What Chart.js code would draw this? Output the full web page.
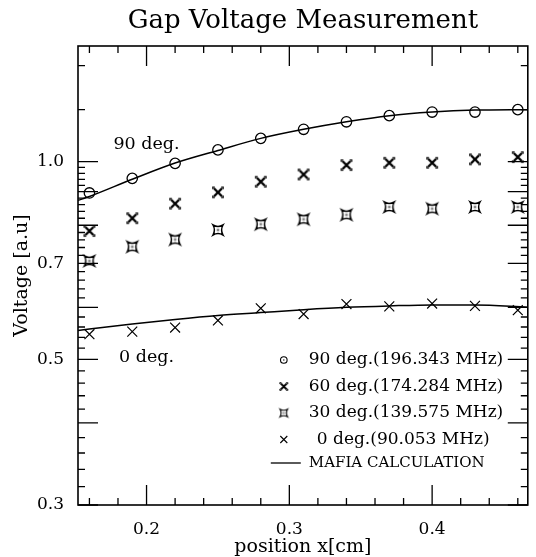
<!DOCTYPE html>
<html><head><meta charset="utf-8">
<script src="https://cdn.jsdelivr.net/npm/chart.js@4.4.1/dist/chart.umd.min.js"></script>
<style>html,body{margin:0;padding:0;background:#fff}</style>
</head><body>
<canvas id="c" width="536" height="557"></canvas>
<script>
// ---- data ----
const positions = [0.16, 0.19, 0.22, 0.25, 0.28, 0.31, 0.34, 0.37, 0.40, 0.43, 0.46];
const v90 = [0.896, 0.943, 0.994, 1.042, 1.085, 1.12, 1.15, 1.175, 1.19, 1.19, 1.20];
const v60 = [0.784, 0.820, 0.863, 0.898, 0.932, 0.956, 0.988, 0.996, 0.996, 1.008, 1.016];
const v30 = [0.706, 0.742, 0.761, 0.787, 0.803, 0.817, 0.830, 0.853, 0.848, 0.853, 0.853];
const v0  = [0.546, 0.551, 0.559, 0.573, 0.598, 0.586, 0.607, 0.602, 0.608, 0.603, 0.594];
const calcPositions = [0.152, 0.16, 0.19, 0.22, 0.25, 0.28, 0.31, 0.34, 0.37, 0.40, 0.43, 0.467];
const calc90 = [0.873, 0.885, 0.94, 0.995, 1.04, 1.085, 1.12, 1.15, 1.175, 1.19, 1.198, 1.20];
const calc0  = [0.553, 0.556, 0.566, 0.575, 0.583, 0.589, 0.595, 0.600, 0.603, 0.605, 0.605, 0.600];
const seriesLabels = ['90 deg.(196.343 MHz)', '60 deg.(174.284 MHz)', '30 deg.(139.575 MHz)', '0 deg.(90.053 MHz)', 'MAFIA CALCULATION'];
const chartTitle = 'Gap Voltage Measurement';
const xTitle = 'position x[cm]';
const yTitle = 'Voltage [a.u]';
const xTickLabels = [0.2, 0.3, 0.4];
const yTickLabels = [0.3, 0.5, 0.7, 1.0];
const xMajorTicks = [0.2, 0.3, 0.4];
const xMinorTicks = [0.16, 0.18, 0.22, 0.24, 0.26, 0.28, 0.32, 0.34, 0.36, 0.38, 0.42, 0.44, 0.46];
const yMajorTicks = [0.3, 0.4, 0.5, 0.6, 0.7, 0.8, 0.9, 1.0];
const yMinorTicks = [0.32, 0.34, 0.36, 0.38, 0.42, 0.44, 0.46, 0.48, 0.52, 0.54, 0.56, 0.58,
  0.62, 0.64, 0.66, 0.68, 0.72, 0.74, 0.76, 0.78, 0.82, 0.84, 0.86, 0.88, 0.92, 0.94, 0.96, 0.98, 1.2, 1.4];
const curveNotes = [{text: '90 deg.', x: 0.2, y: 1.063}, {text: '0 deg.', x: 0.2, y: 0.504}];

// ---- styles ----
const FONT = "'DejaVu Serif', serif";
Chart.defaults.font.family = FONT;
Chart.defaults.color = '#000';

function makeMarker(kind, s) {
  const size = Math.ceil(14 * s) + 2;
  const c = document.createElement('canvas');
  c.width = size; c.height = size;
  const g = c.getContext('2d');
  g.translate(size / 2, size / 2);
  g.scale(s, s);
  g.strokeStyle = '#000';
  g.fillStyle = '#000';
  g.lineCap = 'butt';
  if (kind === 'bx') {
    g.lineWidth = 2.4;
    g.beginPath();
    g.moveTo(-4, -4); g.lineTo(4, 4);
    g.moveTo(4, -4); g.lineTo(-4, 4);
    g.stroke();
    g.lineWidth = 1.3;
    g.beginPath();
    [[-1, -1], [1, -1], [1, 1], [-1, 1]].forEach(([a, b]) => {
      g.moveTo(a * 5.2, b * 3.2); g.lineTo(a * 5.2, b * 5.2); g.lineTo(a * 3.2, b * 5.2);
    });
    g.stroke();
  } else if (kind === 'star') {
    g.lineWidth = 1.5;
    g.beginPath();
    g.moveTo(-5, -5);
    g.quadraticCurveTo(0, -2.2, 5, -5);
    g.quadraticCurveTo(2.2, 0, 5, 5);
    g.quadraticCurveTo(0, 2.2, -5, 5);
    g.quadraticCurveTo(-2.2, 0, -5, -5);
    g.closePath();
    g.stroke();
    g.fillStyle = '#888';
    g.fillRect(-1.3, -1.3, 2.6, 2.6);
  }
  return c;
}
const marker60 = makeMarker('bx', 1);
const marker30 = makeMarker('star', 1);
const marker60s = makeMarker('bx', 0.75);
const marker30s = makeMarker('star', 0.75);

const pts = (xs, ys) => xs.map((x, i) => ({x, y: ys[i]}));

const framePlugin = {
  id: 'frame',
  afterDatasetsDraw(chart) {
    const {ctx, chartArea: a, scales: {x, y}} = chart;
    ctx.save();
    ctx.strokeStyle = '#000';
    ctx.lineWidth = 1.3;
    ctx.beginPath();
    const tick = (vals, len) => {
      vals.forEach(v => {
        const px = x.getPixelForValue(v);
        ctx.moveTo(px, a.bottom); ctx.lineTo(px, a.bottom - len);
        ctx.moveTo(px, a.top); ctx.lineTo(px, a.top + len);
      });
    };
    const ytick = (vals, len) => {
      vals.forEach(v => {
        const py = y.getPixelForValue(v);
        ctx.moveTo(a.left, py); ctx.lineTo(a.left + len, py);
        ctx.moveTo(a.right, py); ctx.lineTo(a.right - len, py);
      });
    };
    tick(xMajorTicks, 20); tick(xMinorTicks, 7);
    ytick(yMajorTicks, 20); ytick(yMinorTicks, 7);
    ctx.stroke();
    ctx.lineWidth = 1.6;
    ctx.strokeRect(a.left, a.top, a.right - a.left, a.bottom - a.top);

    // title
    ctx.fillStyle = '#000';
    ctx.textAlign = 'center';
    ctx.textBaseline = 'middle';
    ctx.font = '26px ' + FONT;
    ctx.fillText(chartTitle, (a.left + a.right) / 2, 21);

    // curve notes
    ctx.font = '17.5px ' + FONT;
    curveNotes.forEach(n => ctx.fillText(n.text, x.getPixelForValue(n.x), y.getPixelForValue(n.y)));

    // legend
    const symX = a.right - 244;
    const rows = [a.bottom - 145, a.bottom - 118.5, a.bottom - 92, a.bottom - 65.5, a.bottom - 42];
    ctx.textAlign = 'left';
    ctx.font = '17px ' + FONT;
    // row 0: circle with dot
    ctx.lineWidth = 1.1;
    ctx.beginPath(); ctx.arc(symX, rows[0], 3.3, 0, Math.PI * 2); ctx.stroke();
    ctx.fillRect(symX - 0.6, rows[0] - 0.6, 1.2, 1.2);
    ctx.fillText(seriesLabels[0], symX + 25, rows[0]);
    ctx.drawImage(marker60s, symX - marker60s.width / 2, rows[1] - marker60s.height / 2);
    ctx.fillText(seriesLabels[1], symX + 25, rows[1]);
    ctx.drawImage(marker30s, symX - marker30s.width / 2, rows[2] - marker30s.height / 2);
    ctx.fillText(seriesLabels[2], symX + 25, rows[2]);
    ctx.lineWidth = 1.1;
    ctx.beginPath();
    ctx.moveTo(symX - 3.5, rows[3] - 3.5); ctx.lineTo(symX + 3.5, rows[3] + 3.5);
    ctx.moveTo(symX + 3.5, rows[3] - 3.5); ctx.lineTo(symX - 3.5, rows[3] + 3.5);
    ctx.stroke();
    ctx.fillText(seriesLabels[3], symX + 33, rows[3]);
    ctx.lineWidth = 1.3;
    ctx.beginPath(); ctx.moveTo(symX - 13, rows[4]); ctx.lineTo(symX + 17, rows[4]); ctx.stroke();
    ctx.font = '15px ' + FONT;
    ctx.fillText(seriesLabels[4], symX + 25, rows[4]);
    ctx.restore();
  }
};

new Chart(document.getElementById('c'), {
  type: 'scatter',
  data: {
    datasets: [
      {label: 'MAFIA 90', data: pts(calcPositions, calc90), showLine: true, pointRadius: 0,
       borderColor: '#000', borderWidth: 1.5, cubicInterpolationMode: 'monotone', fill: false},
      {label: 'MAFIA 0', data: pts(calcPositions, calc0), showLine: true, pointRadius: 0,
       borderColor: '#000', borderWidth: 1.5, cubicInterpolationMode: 'monotone', fill: false},
      {label: seriesLabels[0], data: pts(positions, v90), pointStyle: 'circle', pointRadius: 5.2,
       borderColor: '#000', backgroundColor: 'rgba(0,0,0,0)', borderWidth: 1.3},
      {label: seriesLabels[1], data: pts(positions, v60), pointStyle: marker60, pointRadius: 6,
       borderColor: '#000'},
      {label: seriesLabels[2], data: pts(positions, v30), pointStyle: marker30, pointRadius: 6,
       borderColor: '#000'},
      {label: seriesLabels[3], data: pts(positions, v0), pointStyle: 'crossRot', pointRadius: 7,
       borderColor: '#000', borderWidth: 1.2}
    ]
  },
  options: {
    responsive: false,
    animation: false,
    devicePixelRatio: 1,
    layout: {padding: {top: 46, right: 2, left: 0, bottom: 0}},
    plugins: {legend: {display: false}, tooltip: {enabled: false}, title: {display: false}},
    scales: {
      x: {
        type: 'linear', min: 0.152, max: 0.467,
        grid: {display: false}, border: {display: false},
        afterBuildTicks: s => { s.ticks = xTickLabels.map(v => ({value: v})); },
        afterFit: s => { s.height = 52; },
        ticks: {padding: 6, font: {size: 17}, color: '#000', maxRotation: 0, callback: v => Number(v).toFixed(1)},
        title: {display: true, text: xTitle, font: {size: 19, lineHeight: 1}, padding: {top: 0, bottom: 0}, color: '#000'}
      },
      y: {
        type: 'logarithmic', min: 0.3, max: 1.5,
        grid: {display: false}, border: {display: false},
        afterBuildTicks: s => { s.ticks = yTickLabels.map(v => ({value: v})); },
        afterFit: s => { s.width = 78; },
        ticks: {padding: 6, font: {size: 17}, color: '#000', callback: v => Number(v).toFixed(1)},
        title: {display: true, text: yTitle, font: {size: 19, lineHeight: 1.2}, padding: {top: 11, bottom: 0}, color: '#000'}
      }
    }
  },
  plugins: [framePlugin]
});
</script>
</body></html>
